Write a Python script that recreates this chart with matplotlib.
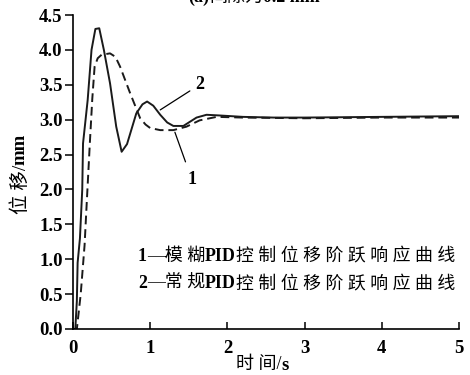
#!/usr/bin/env python3
import matplotlib
matplotlib.use("Agg")
import matplotlib.pyplot as plt

FAMILY = ['Liberation Serif', 'Noto Sans CJK SC', 'DejaVu Sans']
plt.rcParams['font.family'] = FAMILY

# curve 2: conventional PID (solid)
t_conv = [0, 0.03, 0.05, 0.06, 0.09, 0.12, 0.13, 0.19, 0.24, 0.29, 0.34, 0.40,
          0.48, 0.56, 0.63, 0.70, 0.82, 0.90, 0.96, 1.04, 1.13, 1.22, 1.30,
          1.43, 1.60, 1.73, 1.90, 2.20, 2.60, 3.00, 4.00, 5.00]
y_conv = [0, 0, 0.40, 0.95, 1.30, 2.00, 2.66, 3.28, 4.00, 4.30, 4.31, 4.00,
          3.52, 2.90, 2.54, 2.65, 3.09, 3.22, 3.26, 3.20, 3.07, 2.96, 2.91,
          2.91, 3.03, 3.07, 3.06, 3.04, 3.03, 3.03, 3.04, 3.05]

# curve 1: fuzzy PID (dashed)
t_fuzzy = [0, 0.05, 0.10, 0.15, 0.18, 0.22, 0.25, 0.28, 0.32, 0.37, 0.48, 0.55,
           0.61, 0.74, 0.87, 0.94, 1.00, 1.13, 1.30, 1.47, 1.64, 1.86, 2.20,
           3.00, 4.00, 5.00]
y_fuzzy = [0, 0, 0.50, 1.20, 1.85, 2.70, 3.30, 3.76, 3.88, 3.93, 3.95, 3.90,
           3.76, 3.38, 3.02, 2.93, 2.88, 2.85, 2.85, 2.90, 2.99, 3.04, 3.03,
           3.02, 3.03, 3.03]

x_ticks = [0, 1, 2, 3, 4, 5]
y_ticks = [0.0, 0.5, 1.0, 1.5, 2.0, 2.5, 3.0, 3.5, 4.0, 4.5]

# (text, bold?) pieces for mixed-weight labels
legend_1 = [('1', True), ('—模 糊', False), ('PID', True), ('控 制 位 移 阶 跃 响 应 曲 线', False)]
legend_2 = [('2', True), ('—常 规', False), ('PID', True), ('控 制 位 移 阶 跃 响 应 曲 线', False)]
title_parts = [('(a)', True), ('间隙为', False), ('0.2 mm', True)]


def chain_text(ax, x, y, parts, size, transform):
    """place text pieces one after another, bold where asked"""
    first_txt, first_bold = parts[0]
    prev = ax.text(x, y, first_txt, fontsize=size, transform=transform,
                   ha='left', va='bottom',
                   fontweight='bold' if first_bold else 'normal')
    for txt, bold in parts[1:]:
        prev = ax.annotate(txt, xy=(1, 0), xycoords=prev, fontsize=size,
                           ha='left', va='bottom',
                           fontweight='bold' if bold else 'normal')
    return prev


fig = plt.figure(figsize=(4.7, 3.75), dpi=100)
ax = fig.add_axes([0.1553, 0.1227, 0.8213, 0.8373])

ax.plot(t_conv, y_conv, color='#1a1a1a', lw=1.4, ls='-')
ax.plot(t_fuzzy, y_fuzzy, color='#1a1a1a', lw=1.4, ls=(0, (4.5, 2.5)))

ax.set_xlim(0, 5)
ax.set_ylim(0, 4.5)
ax.set_xticks(x_ticks)
ax.set_yticks(y_ticks)
ax.set_xticklabels([str(v) for v in x_ticks], fontweight='bold', fontsize=13.5)
ax.set_yticklabels([f"{v:.1f}" for v in y_ticks], fontweight='bold', fontsize=13.5)
ax.tick_params(axis='y', direction='out', length=6, width=1.1, pad=1.5)
ax.tick_params(axis='x', direction='in', length=5, width=1.1, pad=8)

for s in ['top', 'right']:
    ax.spines[s].set_visible(False)
for s in ['left', 'bottom']:
    ax.spines[s].set_linewidth(1.2)

# axis titles, built from pieces (Chinese regular, units bold)
xl = fig.text(236 / 470, 0.004, '时 间/', fontsize=13, ha='left', va='bottom')
ax.annotate('s', xy=(1, 0), xycoords=xl, fontsize=13.5, fontweight='bold',
            ha='left', va='bottom')

yl = fig.text(11 / 470, 1 - 214 / 375, '位 移/', fontsize=14, ha='left', va='bottom',
              rotation=90)
ax.annotate('mm', xy=(0, 1), xycoords=yl, fontsize=13.5, fontweight='bold',
            ha='left', va='bottom', rotation=90)

# curve labels
ax.annotate('2', xy=(1.13, 3.14), xytext=(1.58, 3.50), fontsize=13, fontweight='bold',
            ha='left', va='center',
            arrowprops=dict(arrowstyle='-', color='black', lw=0.9, shrinkA=2, shrinkB=0))
ax.annotate('1', xy=(1.32, 2.82), xytext=(1.54, 2.14), fontsize=13, fontweight='bold',
            ha='center', va='center',
            arrowprops=dict(arrowstyle='-', color='black', lw=0.9, shrinkA=5, shrinkB=0))

chain_text(ax, 0.84, 0.92, legend_1, 12.9, ax.transData)
chain_text(ax, 0.84, 0.53, legend_2, 12.9, ax.transData)

# title, mostly cut off at the top edge like the source image
prev = fig.text(188 / 470, 1 - 6 / 375, title_parts[0][0], fontsize=13, fontweight='bold',
                ha='left', va='bottom')
for txt, bold in title_parts[1:]:
    prev = ax.annotate(txt, xy=(1, 0), xycoords=prev, fontsize=13,
                       fontweight='bold' if bold else 'normal', ha='left', va='bottom')

fig.savefig('out.png', dpi=100)
